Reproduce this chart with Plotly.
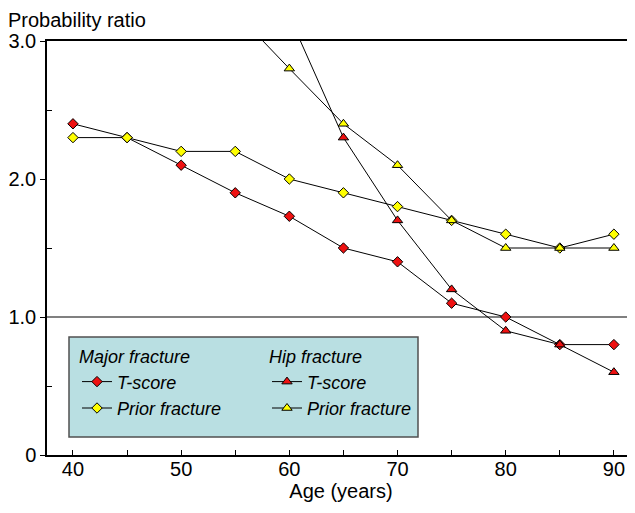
import plotly.graph_objects as go

ages = [40, 45, 50, 55, 60, 65, 70, 75, 80, 85, 90]
major_tscore = [2.4, 2.3, 2.1, 1.9, 1.73, 1.5, 1.4, 1.1, 1.0, 0.8, 0.8]
major_prior = [2.3, 2.3, 2.2, 2.2, 2.0, 1.9, 1.8, 1.7, 1.6, 1.5, 1.6]
hip_ages_t = [60, 65, 70, 75, 80, 85, 90]
hip_tscore = [3.18, 2.3, 1.7, 1.2, 0.9, 0.8, 0.6]
hip_ages_p = [55, 60, 65, 70, 75, 80, 85, 90]
hip_prior = [3.21, 2.8, 2.4, 2.1, 1.7, 1.5, 1.5, 1.5]

x_ticks = [40, 50, 60, 70, 80, 90]
y_ticks = [0, 1, 2, 3]
y_ticktext = ["0", "1.0", "2.0", "3.0"]

FONT = "Liberation Sans, Arial, Helvetica, sans-serif"
RED = "#ee1111"
YEL = "#ffff00"

fig = go.Figure()

def add(x, y, color, symbol, name, legend, size):
    fig.add_trace(go.Scatter(
        x=x, y=y, mode="lines+markers", name=name, legend=legend,
        line=dict(color="black", width=1),
        marker=dict(symbol=symbol, size=size, color=color, line=dict(color="black", width=1)),
    ))

add(ages, major_tscore, RED, "diamond", "T-score", "legend", 8)
add(ages, major_prior, YEL, "diamond", "Prior fracture", "legend", 8)
add(hip_ages_t, hip_tscore, RED, "triangle-up", "T-score", "legend2", 9)
add(hip_ages_p, hip_prior, YEL, "triangle-up", "Prior fracture", "legend2", 9)

# page offset (browser body margin)
OFF = 8
W, H = 635 - OFF, 513 - OFF
# plot area in window pixels: x 47..635, y 41..455
L, R, T = 47 - OFF, 0, 41 - OFF
B = H - (455 - OFF)
pw, ph = W - L - R, H - T - B

def px(xw):
    return (xw - OFF - L) / pw

def py(yw):
    return (H - B - (yw - OFF)) / ph

fig.add_shape(type="line", xref="paper", yref="y", x0=0, x1=1, y0=1, y1=1,
              line=dict(color="#808080", width=2), layer="below")
fig.add_shape(type="rect", xref="paper", yref="paper",
              x0=px(69), x1=px(418), y0=py(437), y1=py(337),
              fillcolor="#b9dfe2", line=dict(color="#505050", width=1.5), layer="above")

legfont = dict(family=FONT, size=18, color="black", style="italic")
fig.update_layout(
    width=W, height=H,
    margin=dict(l=L, r=R, t=T, b=B, autoexpand=False),
    plot_bgcolor="white", paper_bgcolor="white",
    font=dict(family=FONT, size=20, color="black"),
    showlegend=True,
    legend=dict(x=px(77), y=py(340), xanchor="left", yanchor="top",
                bgcolor="rgba(0,0,0,0)", font=legfont,
                title=dict(text="Major fracture", font=legfont, side="top"),
                itemwidth=30, tracegroupgap=0),
    legend2=dict(x=px(267), y=py(340), xanchor="left", yanchor="top",
                 bgcolor="rgba(0,0,0,0)", font=legfont,
                 title=dict(text="Hip fracture", font=legfont, side="top"),
                 itemwidth=30, tracegroupgap=0),
    xaxis=dict(range=[37.6, 91.95], tickvals=x_ticks, ticks="inside", ticklen=5,
               tickcolor="black", showline=True, linecolor="black", linewidth=1.5,
               mirror=True, showgrid=False, zeroline=False, automargin=False,
               ticklabelstandoff=-5,
               minor=dict(tickvals=[45, 55, 65, 75, 85], ticks="inside", ticklen=5, tickcolor="black"),
               title=dict(text="Age (years)", standoff=2, font=dict(size=20)),
               tickfont=dict(size=20)),
    yaxis=dict(range=[0, 3], tickvals=y_ticks, ticktext=y_ticktext, ticks="outside", ticklen=5,
               tickcolor="black", showline=True, linecolor="black", linewidth=1.5,
               showgrid=False, zeroline=False, automargin=False,
               minor=dict(tickvals=[0.5, 1.5, 2.5], ticks="inside", ticklen=5, tickcolor="black"),
               tickfont=dict(size=20)),
)
fig.add_annotation(text="Probability ratio", xref="paper", yref="paper",
                   x=px(6), y=1, xanchor="left", yanchor="bottom", yshift=8,
                   showarrow=False, font=dict(family=FONT, size=20))

fig.write_html("out.html")
